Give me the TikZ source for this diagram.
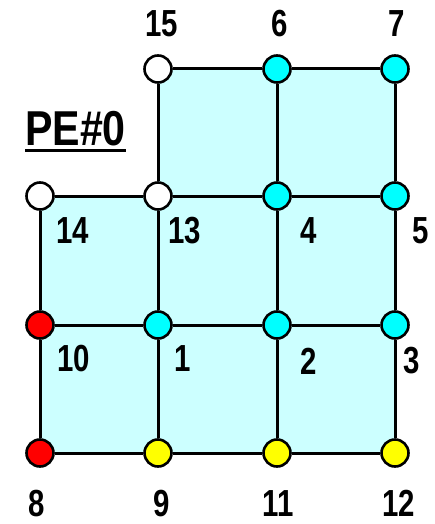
\documentclass[tikz,border=0pt]{standalone}
\usepackage{fontspec}
\setmainfont{Liberation Sans}[FakeStretch=0.78]
\newfontfamily\pefont{Liberation Sans}[FakeStretch=0.84]
\definecolor{lcyan}{HTML}{CCFFFF}
\definecolor{ncyan}{HTML}{00FFFF}
\definecolor{nred}{HTML}{FF0000}
\definecolor{nyel}{HTML}{FFFF00}
\begin{document}
\begin{tikzpicture}[x=1pt,y=-1pt,
  pt/.style={circle,draw=black,line width=2.6pt,minimum size=27pt,inner sep=0pt},
  lab/.style={inner sep=0pt,font=\fontsize{37.7}{40}\selectfont\bfseries},
  edge/.style={line width=3pt,draw=black}]
\useasboundingbox (0,0) rectangle (435,524);
% fill
\fill[lcyan] (158,69) -- (395,69) -- (395,453) -- (40,453) -- (40,196) -- (158,196) -- cycle;
% nodes
\node[pt,fill=white] (n15) at (158,69) {};
\node[pt,fill=ncyan] (n6) at (277,69) {};
\node[pt,fill=ncyan] (n7) at (395,69) {};
\node[pt,fill=white] (n14) at (40,196) {};
\node[pt,fill=white] (n13) at (158,196) {};
\node[pt,fill=ncyan] (n4) at (277,196) {};
\node[pt,fill=ncyan] (n5) at (395,196) {};
\node[pt,fill=nred] (n10) at (40,325) {};
\node[pt,fill=ncyan] (n1) at (158,325) {};
\node[pt,fill=ncyan] (n2) at (277,325) {};
\node[pt,fill=ncyan] (n3) at (395,325) {};
\node[pt,fill=nred] (n8) at (40,453) {};
\node[pt,fill=nyel] (n9) at (158,453) {};
\node[pt,fill=nyel] (n11) at (277,453) {};
\node[pt,fill=nyel] (n12) at (395,453) {};
% edges
\draw[edge] (n15) -- (n6); \draw[edge] (n6) -- (n7);
\draw[edge] (n14) -- (n13); \draw[edge] (n13) -- (n4); \draw[edge] (n4) -- (n5);
\draw[edge] (n10) -- (n1); \draw[edge] (n1) -- (n2); \draw[edge] (n2) -- (n3);
\draw[edge] (n8) -- (n9); \draw[edge] (n9) -- (n11); \draw[edge] (n11) -- (n12);
\draw[edge] (n14) -- (n10); \draw[edge] (n10) -- (n8);
\draw[edge] (n15) -- (n13); \draw[edge] (n13) -- (n1); \draw[edge] (n1) -- (n9);
\draw[edge] (n6) -- (n4); \draw[edge] (n4) -- (n2); \draw[edge] (n2) -- (n11);
\draw[edge] (n7) -- (n5); \draw[edge] (n5) -- (n3); \draw[edge] (n3) -- (n12);
% labels
\node[lab] (l15) at (161.5,23.5) {15};
\node[lab] (l6) at (280,23.5) {6};
\node[lab] (l7) at (396.5,23.5) {7};
\node[lab] (l14) at (72.5,231) {14};
\node[lab] (l13) at (185,231) {13};
\node[lab] (l4) at (309,231) {4};
\node[lab] (l5) at (420.5,231) {5};
\node[lab] (l10) at (74,359) {10};
\node[lab] (l1) at (183,359) {1};
\node[lab] (l2) at (308.5,361) {2};
\node[lab] (l3) at (412,361) {3};
\node[lab] (l8) at (37,503.5) {8};
\node[lab] (l9) at (161.5,503.5) {9};
\node[lab] (l11) at (278,503.5) {11};
\node[lab] (l12) at (398.5,503.5) {12};
% PE#0
\node[inner sep=0pt,anchor=base west,font=\pefont\fontsize{49}{52}\selectfont\bfseries] (pe) at (25,145) {PE\#0};
\draw[line width=3pt] ([yshift=-5.5pt]pe.base west) -- ([yshift=-5.5pt]pe.base east);
\end{tikzpicture}
\end{document}
